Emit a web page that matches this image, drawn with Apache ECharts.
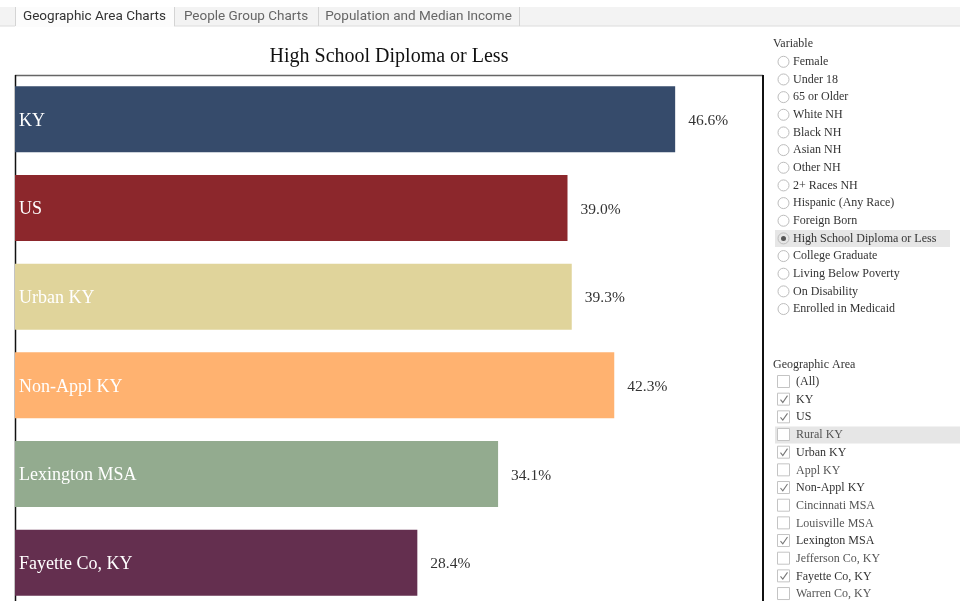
<!DOCTYPE html>
<html>
<head>
<meta charset="utf-8">
<script src="https://cdn.jsdelivr.net/npm/echarts@6/dist/echarts.min.js"></script>
<style>
html,body{margin:0;padding:0;background:#fff;}
#chart{width:960px;height:601px;}
</style>
</head>
<body>
<div id="chart"></div>
<script>
// ---- data ----
var categories = ['KY', 'US', 'Urban KY', 'Non-Appl KY', 'Lexington MSA', 'Fayette Co, KY'];
var values = [46.6, 39.0, 39.3, 42.3, 34.1, 28.4];
var barColors = ['#364b6b', '#8c272c', '#e0d49b', '#ffb270', '#93ab8f', '#642f4f'];
var chartTitle = 'High School Diploma or Less';
var tabs = ['Geographic Area Charts', 'People Group Charts', 'Population and Median Income'];
var variableOptions = ['Female', 'Under 18', '65 or Older', 'White NH', 'Black NH', 'Asian NH', 'Other NH',
  '2+ Races NH', 'Hispanic (Any Race)', 'Foreign Born', 'High School Diploma or Less', 'College Graduate',
  'Living Below Poverty', 'On Disability', 'Enrolled in Medicaid'];
var selectedVariable = 'High School Diploma or Less';
var geoOptions = ['(All)', 'KY', 'US', 'Rural KY', 'Urban KY', 'Appl KY', 'Non-Appl KY', 'Cincinnati MSA',
  'Louisville MSA', 'Lexington MSA', 'Jefferson Co, KY', 'Fayette Co, KY', 'Warren Co, KY'];
var hoveredGeo = 'Rural KY';

// ---- UI graphics ----
var serif = '"Liberation Serif", "DejaVu Serif", serif';
var sans = 'Roboto, "Open Sans", "Liberation Sans", sans-serif';
var g = [];
// tab strip
g.push({type:'rect', shape:{x:0,y:7,width:960,height:19}, style:{fill:'#f3f3f3'}, silent:true});
g.push({type:'line', shape:{x1:0,y1:26,x2:960,y2:26}, style:{stroke:'#dcdcdc',lineWidth:1}});
var tabEdges = [15, 174, 318, 519];
for (var i = 0; i < tabs.length; i++) {
  var x0 = tabEdges[i], x1 = tabEdges[i+1];
  if (i === 0) g.push({type:'rect', shape:{x:x0,y:7,width:x1-x0,height:20}, style:{fill:'#fcfcfc'}});
  g.push({type:'line', shape:{x1:x1+0.5,y1:7,x2:x1+0.5,y2:26}, style:{stroke:'#d4d4d4',lineWidth:1}});
  g.push({type:'text', x:(x0+x1)/2, y:17, style:{text:tabs[i], font:'13.5px ' + sans, fill:i===0?'#333':'#666', align:'center', verticalAlign:'middle'}});
}
g.push({type:'line', shape:{x1:15.5,y1:7,x2:15.5,y2:26}, style:{stroke:'#d4d4d4',lineWidth:1}});

// title
g.push({type:'text', x:389, y:56.5, style:{text:chartTitle, font:'20px ' + serif, fill:'#111', align:'center', verticalAlign:'middle'}});

// frame
g.push({type:'line', shape:{x1:15,y1:75.5,x2:763,y2:75.5}, style:{stroke:'#666',lineWidth:1.5}});
g.push({type:'line', shape:{x1:15.5,y1:75,x2:15.5,y2:601}, style:{stroke:'#111',lineWidth:1.5}});
g.push({type:'line', shape:{x1:763,y1:75,x2:763,y2:601}, style:{stroke:'#111',lineWidth:2}});

// Variable panel
g.push({type:'text', x:773, y:43.5, style:{text:'Variable', font:'12px ' + serif, fill:'#333', verticalAlign:'middle'}});
for (var j = 0; j < variableOptions.length; j++) {
  var yy = 61.8 + j * 17.66;
  if (variableOptions[j] === selectedVariable) {
    g.push({type:'rect', shape:{x:775,y:yy-8.5,width:175,height:17}, style:{fill:'#e6e6e6'}});
    g.push({type:'circle', shape:{cx:783.5,cy:yy,r:2.5}, style:{fill:'#555'}});
  }
  g.push({type:'circle', shape:{cx:783.5,cy:yy,r:5.5}, style:{fill:'none', stroke:'#bdbdbd', lineWidth:1}});
  g.push({type:'text', x:793, y:yy, style:{text:variableOptions[j], font:'12px ' + serif, fill:'#333', verticalAlign:'middle'}});
}

// Geographic Area panel
g.push({type:'text', x:773, y:364.5, style:{text:'Geographic Area', font:'12px ' + serif, fill:'#333', verticalAlign:'middle'}});
for (var k = 0; k < geoOptions.length; k++) {
  var y2 = 382 + k * 17.67;
  var checked = categories.indexOf(geoOptions[k]) >= 0;
  if (geoOptions[k] === hoveredGeo) {
    g.push({type:'rect', shape:{x:775,y:y2-8.5,width:185,height:17}, style:{fill:'#e6e6e6'}});
  }
  g.push({type:'rect', shape:{x:777.5,y:y2-6.5,width:12,height:12}, style:{fill:'#fff', stroke:'#c4c4c4', lineWidth:1}});
  if (checked) {
    g.push({type:'polyline', shape:{points:[[780.5,y2],[782.8,y2+2.8],[787.5,y2-4]]}, style:{fill:'none', stroke:'#777', lineWidth:1.1}});
  }
  g.push({type:'text', x:796, y:y2, style:{text:geoOptions[k], font:'12px ' + serif, fill:checked || k === 0 ? '#333' : '#555', verticalAlign:'middle'}});
}

var chart = echarts.init(document.getElementById('chart'), null, {renderer:'canvas'});
chart.setOption({
  animation:false,
  backgroundColor:'#fff',
  grid:{left:15, top:75, width:748, height:532, containLabel:false, outerBoundsMode:'none'},
  xAxis:{type:'value', min:0, max:52.8, show:false},
  yAxis:{type:'category', data:categories, inverse:true, show:false},
  series:[
    {
      type:'bar', data:values.map(function(v, i){ return {value:v, itemStyle:{color:barColors[i]}}; }),
      barWidth:66,
      label:{show:true, position:'right', distance:13, offset:[0, 1.5], formatter:function(p){return p.value.toFixed(1) + '%';},
        fontFamily:serif, fontSize:15.5, color:'#333'}
    },
    {
      type:'bar', data:values, barWidth:66, barGap:'-100%',
      itemStyle:{color:'rgba(0,0,0,0)'}, z:3,
      label:{show:true, position:'insideLeft', distance:4, offset:[0, 1.5], formatter:function(p){return p.name;},
        fontFamily:serif, fontSize:18, color:'#fff'}
    }
  ],
  graphic:g
});
</script>
</body>
</html>
